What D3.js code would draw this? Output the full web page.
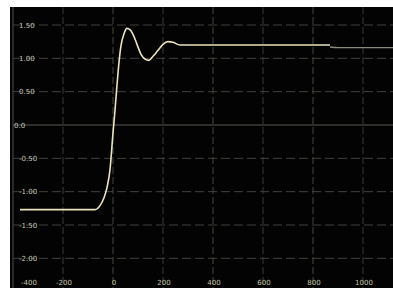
<!DOCTYPE html>
<html><head><meta charset="utf-8">
<script src="https://cdn.jsdelivr.net/npm/d3@7"></script>
<style>html,body{margin:0;padding:0;background:#fff;}svg{display:block;}</style>
</head><body>
<svg id="c" width="393" height="288"></svg>
<script>
// Data
const xTicks = [-400, -200, 0, 200, 400, 600, 800, 1000];
const xTickLabels = ["-400", "-200", "0", "200", "400", "600", "800", "1000"];
const yTicks = [1.5, 1.0, 0.5, 0, -0.5, -1.0, -1.5, -2.0];
const yTickLabels = ["1.50", "1.00", "0.50", "0.0", "-0.50", "-1.00", "-1.50", "-2.00"];
const traceTime = [-372, -72, -52, -36, -24, -12, 0, 8, 16, 24, 32, 44, 56, 68, 80, 96, 112, 128, 144, 160, 180, 200, 220, 240, 268, 400, 600, 868];
const traceValue = [-1.27, -1.27, -1.21, -1.09, -0.94, -0.67, -0.12, 0.22, 0.6, 0.94, 1.19, 1.37, 1.45, 1.43, 1.36, 1.21, 1.06, 0.99, 0.97, 1.03, 1.12, 1.21, 1.25, 1.24, 1.2, 1.2, 1.2, 1.2];
const refTime = [868, 900, 1000, 1120];
const refValue = [1.17, 1.16, 1.16, 1.16];

const svg = d3.select("#c");
const x = d3.scaleLinear().domain([-400, 1120]).range([13, 393]);
const y = d3.scaleLinear().domain([0, 1.5]).range([125, 25]);

svg.append("rect").attr("x", 10).attr("y", 7).attr("width", 383).attr("height", 281).attr("fill", "#030303");

const g = svg.append("g");
// vertical grid
g.selectAll("line.v").data(xTicks).join("line")
  .attr("x1", d => x(d)).attr("x2", d => x(d)).attr("y1", 7).attr("y2", 288)
  .attr("stroke", d => d === -400 ? "#4e4e46" : (d === 0 || d === 400 || d === 800) ? "#48483c" : "#3a3a36")
  .attr("stroke-dasharray", d => d === -400 ? null : "7,3")
  .attr("stroke-width", 1);
// horizontal grid
g.selectAll("line.h").data(yTicks).join("line")
  .attr("x1", 13).attr("x2", 393).attr("y1", d => y(d)).attr("y2", d => y(d))
  .attr("stroke", d => d === 0 ? "#5a5a52" : "#40403c")
  .attr("stroke-dasharray", d => d === 0 ? null : "9,4")
  .attr("stroke-width", 1);

// y labels
g.selectAll("text.y").data(yTicks).join("text")
  .attr("x", (d, i) => d === 0 ? 14 : 19).attr("y", d => y(d) + 2.5)
  .attr("font-family", "DejaVu Sans, sans-serif").attr("font-size", 7)
  .attr("fill", "#c4c4b4")
  .text((d, i) => yTickLabels[i]);
// x labels
g.selectAll("text.x").data(xTicks).join("text")
  .attr("x", (d, i) => i === 0 ? 21 : x(d) + 1).attr("y", 285)
  .attr("text-anchor", (d, i) => i === 0 ? "start" : "middle")
  .attr("font-family", "DejaVu Sans, sans-serif").attr("font-size", 7)
  .attr("fill", "#c4c4a8")
  .text((d, i) => xTickLabels[i]);

const line = d3.line().x(d => x(d[0])).y(d => y(d[1])).curve(d3.curveMonotoneX);
svg.append("path").datum(refTime.map((t, i) => [t, refValue[i]]))
  .attr("d", line).attr("fill", "none").attr("stroke", "#8a8a80").attr("stroke-width", 1.3);
svg.append("path").datum(traceTime.map((t, i) => [t, traceValue[i]]))
  .attr("d", line).attr("fill", "none").attr("stroke", "#ebe3bd").attr("stroke-width", 1.6);
</script>
</body></html>
